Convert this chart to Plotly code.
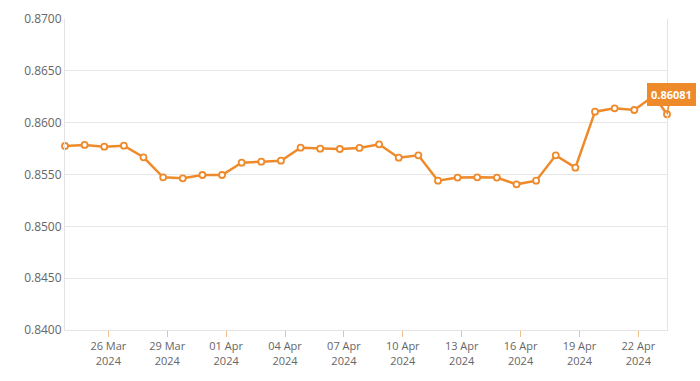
import plotly.graph_objects as go
import pandas as pd

dates = ["2024-03-24", "2024-03-25", "2024-03-26", "2024-03-27", "2024-03-28",
         "2024-03-29", "2024-03-30", "2024-03-31", "2024-04-01", "2024-04-02",
         "2024-04-03", "2024-04-04", "2024-04-05", "2024-04-06", "2024-04-07",
         "2024-04-08", "2024-04-09", "2024-04-10", "2024-04-11", "2024-04-12",
         "2024-04-13", "2024-04-14", "2024-04-15", "2024-04-16", "2024-04-17",
         "2024-04-18", "2024-04-19", "2024-04-20", "2024-04-21", "2024-04-22",
         "2024-04-23", "2024-04-23 16:00"]
rates = [0.85775, 0.85785, 0.85768, 0.85778, 0.85666,
         0.85473, 0.85463, 0.85495, 0.85495, 0.85614,
         0.85624, 0.85633, 0.85759, 0.85749, 0.85746,
         0.85756, 0.85791, 0.85662, 0.85685, 0.85440,
         0.85470, 0.85473, 0.85470, 0.85405, 0.85440,
         0.85685, 0.85566, 0.86106, 0.86138, 0.86122,
         0.86260, 0.86081]
tick_dates = ["2024-03-26", "2024-03-29", "2024-04-01", "2024-04-04", "2024-04-07",
              "2024-04-10", "2024-04-13", "2024-04-16", "2024-04-19", "2024-04-22"]
tick_labels = ["26 Mar<br>2024", "29 Mar<br>2024", "01 Apr<br>2024", "04 Apr<br>2024",
               "07 Apr<br>2024", "10 Apr<br>2024", "13 Apr<br>2024", "16 Apr<br>2024",
               "19 Apr<br>2024", "22 Apr<br>2024"]
y_ticks = [0.84, 0.845, 0.85, 0.855, 0.86, 0.865, 0.87]

orange = "#EF8A2B"
x = pd.to_datetime(dates, format="mixed")
tickvals = pd.to_datetime(tick_dates) + pd.Timedelta(hours=5)

fig = go.Figure()
fig.add_trace(go.Scatter(
    x=x, y=rates, mode="lines+markers",
    line=dict(color=orange, width=2.5),
    marker=dict(size=6, color="white", line=dict(color=orange, width=1.8)),
    hoverinfo="skip", cliponaxis=False,
))

fig.add_annotation(
    x=x[-1], y=rates[-1], text="<b>%.5f</b>" % rates[-1],
    showarrow=True, arrowhead=0, arrowcolor=orange, arrowwidth=1.5,
    ax=4, ay=-20, bgcolor=orange, bordercolor=orange, borderpad=3,
    font=dict(color="white", size=11, family="Open Sans"),
)

fig.update_layout(
    width=700, height=381,
    margin=dict(l=65, r=33, t=19, b=51, autoexpand=False),
    paper_bgcolor="white", plot_bgcolor="white",
    showlegend=False,
    font=dict(family="Open Sans", size=12, color="#666666"),
    xaxis=dict(
        range=[x[0], x[-1]], automargin=False,
        tickvals=tickvals, ticktext=tick_labels,
        showgrid=False, showline=True, linecolor="#e4e4e4", linewidth=1,
        mirror=False,
        ticks="outside", ticklen=6, tickcolor="#f0c08a", tickwidth=1,
        tickfont=dict(size=11, color="#666666"),
        zeroline=False,
    ),
    yaxis=dict(
        range=[0.84, 0.87], tickvals=y_ticks, automargin=False,
        tickformat=".4f",
        showgrid=True, gridcolor="#e6e6e6", gridwidth=1,
        showline=True, linecolor="#e4e4e4", linewidth=1, mirror=True,
        ticks="", zeroline=False,
        tickfont=dict(size=12, color="#666666"),
    ),
)

fig.write_html("out.html", config={"displayModeBar": False},
               post_script="document.body.style.margin='0px';")
